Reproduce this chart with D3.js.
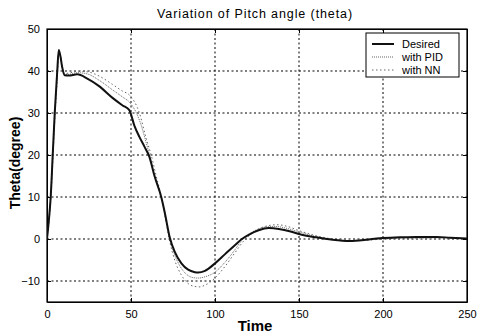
<!DOCTYPE html>
<html>
<head>
<meta charset="utf-8">
<script src="https://cdn.jsdelivr.net/npm/d3@7"></script>
<style>
  body { margin: 0; background: #fff; }
  text { font-family: "Liberation Sans", Arial, sans-serif; }
</style>
</head>
<body>
<svg id="chart" width="479" height="336"></svg>
<script>
// time samples and the three series
var desiredT = [0, 1, 2.2, 3.4, 4.6, 6.1, 7, 8, 9, 10.5, 13, 18, 24, 31, 39, 45, 49, 52, 55, 58, 61, 64, 68, 70, 73, 76, 80, 84, 88, 90, 94, 100, 106, 112, 116, 120, 126, 132, 138, 145, 150, 160, 170, 180, 190, 198, 210, 220, 232, 240, 250];
var desired  = [0, 4, 10, 20, 30, 40, 45, 43.5, 41, 39, 38.9, 39.2, 38.2, 36.4, 33.6, 31.8, 30.7, 27, 24.3, 22, 19.5, 15, 10, 6.5, 0.5, -3, -5.8, -7.3, -7.9, -8, -7.6, -5.8, -3.6, -1.4, 0, 1, 2.1, 2.6, 2.4, 1.8, 1.2, 0.4, -0.2, -0.5, -0.2, 0.2, 0.4, 0.5, 0.5, 0.3, 0.1];

var pidT = [0, 1, 2.2, 3.4, 4.6, 6.1, 7, 8, 9, 10.5, 13, 18, 24, 31, 39, 45, 49, 55, 59, 61, 64, 68, 70, 73, 76, 80, 84, 87, 90, 94, 100, 106, 112, 116, 120, 126, 131, 136, 142, 150, 160, 170, 180, 190, 200, 215, 230, 250];
var pid      = [0, 4, 10, 19, 29, 39, 44.5, 43.5, 41, 39.2, 39.2, 39.6, 39.3, 37.8, 35.5, 33.8, 32.6, 28.3, 23, 20, 15.2, 10, 6.2, 0, -3.8, -7, -8.7, -9.2, -9.3, -9, -7.9, -5.5, -2.5, -0.3, 1.1, 2.4, 2.9, 3, 2.6, 1.7, 0.6, -0.1, -0.4, -0.2, 0.1, 0.3, 0.3, 0.1];

var nnT = [0, 1, 2.2, 3.4, 4.6, 6.1, 7, 8, 9, 10.5, 13, 18, 24, 31, 39, 45, 49, 55, 59, 62, 65, 68, 70, 73, 76, 80, 84, 88, 91, 94, 100, 106, 112, 117, 121, 127, 132, 137, 143, 150, 160, 170, 180, 190, 200, 215, 230, 250];
var nn       = [0, 3.5, 9, 18, 28, 38, 44, 43.5, 41, 39.4, 39.5, 39.9, 39.8, 38.8, 36.8, 35.2, 34.3, 30, 24, 20, 15, 10.2, 6, -0.5, -5, -8.6, -10.6, -11.3, -11.4, -11, -9.3, -6.5, -3.2, -0.5, 1, 2.6, 3.2, 3.4, 3, 2, 0.8, 0, -0.4, -0.3, 0, 0.2, 0.3, 0.1];

var xTicks = [0, 50, 100, 150, 200, 250];
var yTicks = [-10, 0, 10, 20, 30, 40, 50];
var legendNames = ["Desired", "with PID", "with NN"];

(function() {

  var svg = d3.select("#chart");

  var mLeft = 47, mRight = 467, mTop = 29, mBottom = 302;

  var x = d3.scaleLinear().domain([0, 250]).range([mLeft, mRight]);
  var y = d3.scaleLinear().domain([-15, 50]).range([mBottom, mTop]);

  // dotted grid
  var grid = svg.append("g");
  grid.selectAll(".gx")
      .data(xTicks.slice(1, -1))
    .enter().append("line")
      .attr("x1", d => x(d)).attr("x2", d => x(d))
      .attr("y1", mTop).attr("y2", mBottom)
      .attr("stroke", "#000").attr("stroke-width", 1)
      .attr("stroke-dasharray", "2,2.5");
  grid.selectAll(".gy")
      .data(yTicks.slice(0, -1))
    .enter().append("line")
      .attr("x1", mLeft).attr("x2", mRight)
      .attr("y1", d => y(d)).attr("y2", d => y(d))
      .attr("stroke", "#000").attr("stroke-width", 1)
      .attr("stroke-dasharray", "2,2.5");

  // axes with inside ticks
  svg.append("g")
      .attr("transform", "translate(0," + mBottom + ")")
      .call(d3.axisBottom(x).tickValues(xTicks).tickSizeInner(-4).tickSizeOuter(0).tickPadding(8));
  svg.append("g")
      .attr("transform", "translate(" + mLeft + ",0)")
      .call(d3.axisLeft(y).tickValues(yTicks).tickSizeInner(-4).tickSizeOuter(0).tickPadding(7));
  svg.append("g")
      .attr("transform", "translate(0," + mTop + ")")
      .call(d3.axisTop(x).tickValues(xTicks).tickSizeInner(-4).tickSizeOuter(0).tickFormat(""));
  svg.append("g")
      .attr("transform", "translate(" + mRight + ",0)")
      .call(d3.axisRight(y).tickValues(yTicks).tickSizeInner(-4).tickSizeOuter(0).tickFormat(""));

  svg.selectAll(".domain").attr("stroke", "#000");
  svg.selectAll(".tick line").attr("stroke", "#000");
  svg.selectAll(".tick text")
      .style("font-family", "'Liberation Sans', Arial, sans-serif")
      .style("font-size", "11px")
      .attr("fill", "#000");

  svg.append("rect")
      .attr("x", mLeft).attr("y", mTop)
      .attr("width", mRight - mLeft).attr("height", mBottom - mTop)
      .attr("fill", "none").attr("stroke", "#000").attr("stroke-width", 1.2);

  // curves
  svg.append("clipPath").attr("id", "clip")
    .append("rect").attr("x", mLeft).attr("y", mTop).attr("width", mRight - mLeft).attr("height", mBottom - mTop);

  function lineFor(ts) {
    return d3.line()
        .x((d, i) => x(ts[i]))
        .y(d => y(d))
        .curve(d3.curveMonotoneX);
  }

  var plot = svg.append("g").attr("clip-path", "url(#clip)");

  plot.append("path")
      .attr("d", lineFor(nnT)(nn))
      .attr("fill", "none").attr("stroke", "#666").attr("stroke-width", 1)
      .attr("stroke-dasharray", "1.5,2.5");
  plot.append("path")
      .attr("d", lineFor(pidT)(pid))
      .attr("fill", "none").attr("stroke", "#555").attr("stroke-width", 0.9)
      .attr("stroke-dasharray", "1,1");
  plot.append("path")
      .attr("d", lineFor(desiredT)(desired))
      .attr("fill", "none").attr("stroke", "#111").attr("stroke-width", 2);

  // legend
  var legend = svg.append("g");
  legend.append("rect")
      .attr("x", 366).attr("y", 33).attr("width", 93).attr("height", 44)
      .attr("fill", "#fff").attr("stroke", "#000").attr("stroke-width", 1);

  var legendStyles = [
    {stroke: "#111", width: 2, dash: null},
    {stroke: "#555", width: 0.9, dash: "1,1"},
    {stroke: "#666", width: 1, dash: "1.5,2.5"}
  ];

  legend.selectAll(".item")
      .data(legendNames)
    .enter().append("g")
      .each(function(d, i) {
        var g = d3.select(this);
        var yy = 44 + i * 13;
        g.append("line")
            .attr("x1", 372).attr("x2", 394)
            .attr("y1", yy).attr("y2", yy)
            .attr("stroke", legendStyles[i].stroke)
            .attr("stroke-width", legendStyles[i].width)
            .attr("stroke-dasharray", legendStyles[i].dash);
        g.append("text")
            .attr("x", 402).attr("y", yy + 4)
            .style("font-size", "11px")
            .text(d);
      });

  // titles
  svg.append("text")
      .attr("x", 255).attr("y", 18)
      .attr("text-anchor", "middle")
      .style("font-size", "12.5px")
      .style("letter-spacing", "0.9px")
      .text("Variation of Pitch angle (theta)");

  svg.append("text")
      .attr("x", 255).attr("y", 331)
      .attr("text-anchor", "middle")
      .style("font-size", "15px").style("font-weight", "bold")
      .text("Time");

  svg.append("text")
      .attr("transform", "translate(20,163) rotate(-90)")
      .attr("text-anchor", "middle")
      .style("font-size", "14px").style("font-weight", "bold")
      .text("Theta(degree)");

})();
</script>
</body>
</html>
